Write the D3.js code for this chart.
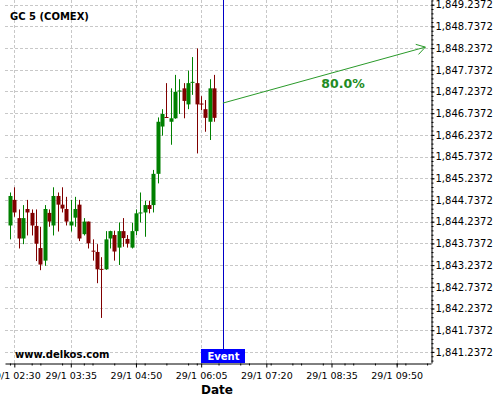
<!DOCTYPE html>
<html><head><meta charset="utf-8">
<script src="https://cdn.jsdelivr.net/npm/d3@7"></script>
<style>body{margin:0;background:#fff}svg{display:block;font-family:"DejaVu Sans",sans-serif}</style>
</head><body><svg id="c" width="500" height="400"></svg>
<script>
const times = ["02:25","02:30","02:35","02:40","02:45","02:50","02:55","03:00","03:05","03:10","03:15","03:20","03:25","03:30","03:35","03:40","03:45","03:50","03:55","04:00","04:05","04:10","04:15","04:20","04:25","04:30","04:35","04:40","04:45","04:50","04:55","05:00","05:05","05:10","05:15","05:20","05:25","05:30","05:35","05:40","05:45","05:50","05:55","06:00","06:05","06:10","06:15","06:20"];
const open  = [1844.15,1844.74,1844.32,1843.85,1844.53,1844.44,1844.14,1843.63,1843.34,1844.44,1844.15,1844.83,1844.63,1844.53,1844.15,1844.33,1844.63,1843.95,1844.24,1843.57,1843.54,1843.15,1843.14,1843.85,1843.93,1843.64,1844.02,1843.84,1843.64,1844.02,1844.44,1844.45,1844.62,1844.62,1845.34,1846.43,1846.65,1846.54,1846.62,1847.24,1847.31,1846.94,1847.45,1847.43,1846.96,1846.83,1846.54,1847.31];
const high  = [1844.91,1845.03,1844.52,1844.62,1844.74,1844.52,1844.52,1844.12,1844.62,1844.52,1845.03,1844.91,1845.03,1844.81,1844.74,1844.81,1844.74,1844.32,1844.24,1843.83,1843.72,1843.42,1844.02,1844.03,1844.03,1844.22,1844.32,1843.93,1844.21,1844.52,1844.91,1844.72,1844.72,1845.43,1846.64,1846.83,1847.43,1847.31,1847.62,1847.52,1847.43,1847.72,1848.03,1848.23,1847.13,1847.04,1847.52,1847.62];
const low   = [1843.83,1844.35,1843.62,1843.72,1843.92,1843.92,1843.33,1843.12,1843.22,1844.12,1843.92,1844.01,1844.45,1844.15,1844.01,1844.12,1843.79,1843.92,1843.62,1843.34,1842.82,1842.02,1843.13,1843.62,1843.34,1843.24,1843.66,1843.64,1843.62,1843.93,1844.22,1843.89,1844.43,1844.45,1845.12,1846.22,1846.63,1846.01,1846.61,1846.72,1846.62,1846.83,1847.16,1845.81,1846.81,1846.31,1846.12,1846.54];
const close = [1844.83,1844.45,1843.85,1844.32,1844.45,1844.15,1843.73,1843.25,1844.53,1844.24,1844.83,1844.63,1844.54,1844.24,1844.24,1844.53,1843.85,1844.24,1843.74,1843.55,1843.14,1843.13,1843.83,1844.02,1843.55,1844.02,1843.86,1843.73,1844.02,1844.43,1844.45,1844.62,1844.53,1845.34,1846.54,1846.72,1846.64,1846.62,1847.23,1847.26,1847.02,1847.43,1847.46,1846.94,1846.94,1846.63,1847.31,1846.63];

const xTickTimes  = ["02:30","03:35","04:50","06:05","07:20","08:35","09:50"];
const xTickLabels = ["29/1 02:30","29/1 03:35","29/1 04:50","29/1 06:05","29/1 07:20","29/1 08:35","29/1 09:50"];
const yTicks = [1841.2372,1841.7372,1842.2372,1842.7372,1843.2372,1843.7372,1844.2372,1844.7372,1845.2372,1845.7372,1846.2372,1846.7372,1847.2372,1847.7372,1848.2372,1848.7372,1849.2372];
const eventTime = "06:30";
const arrowTimes  = ["06:30","10:23"];
const arrowPrices = [1846.97,1848.26];
const probLabel = "80.0%";
const title = "GC 5 (COMEX)";
const site = "www.delkos.com";
const xTitle = "Date";
const eventLabel = "Event";

const parse = d3.timeParse("%H:%M");
const parseS = d3.timeParse("%H:%M:%S");
const svg = d3.select("#c");
const L = 5, R = 431, T = 0, B = 363;

const x = d3.scaleTime().domain([parseS("02:19:18"), parseS("10:29:30")]).range([L, R]);
const y = d3.scaleLinear().domain([1840.9814, 1849.3455]).range([B, T]);

// grid
const grid = svg.append("g").attr("stroke","#c8c8c8").attr("stroke-dasharray","3,2").attr("stroke-width",1);
xTickTimes.forEach(t => {
  const xx = Math.round(x(parse(t))) + 0.5;
  grid.append("line").attr("x1",xx).attr("x2",xx).attr("y1",T).attr("y2",B);
});
yTicks.forEach(v => {
  const yy = Math.round(y(v)) + 0.5;
  grid.append("line").attr("x1",L).attr("x2",R).attr("y1",yy).attr("y2",yy);
});

// candles
const data = times.map((t,i)=>({t:parse(t),o:open[i],h:high[i],l:low[i],c:close[i]}));
const cw = 4;
const cg = svg.append("g");
data.forEach(d => {
  const col = d.c >= d.o ? "#008000" : "#800000";
  const cx = Math.round(x(d.t));
  cg.append("line").attr("x1",cx+0.5).attr("x2",cx+0.5).attr("y1",y(d.h)).attr("y2",y(d.l)).attr("stroke",col).attr("stroke-width",1);
  const top = y(Math.max(d.o,d.c)), bot = y(Math.min(d.o,d.c));
  cg.append("rect").attr("x",cx-1.5).attr("y",top).attr("width",cw).attr("height",Math.max(1,bot-top)).attr("fill",col);
});

// event line
const ex = Math.round(x(parse(eventTime))) + 0.5;
svg.append("line").attr("x1",ex).attr("x2",ex).attr("y1",T).attr("y2",B).attr("stroke","#0000c8").attr("stroke-width",1);

// arrow
const ax1 = x(parse(arrowTimes[0])), ay1 = y(arrowPrices[0]);
const ax2 = x(parse(arrowTimes[1])), ay2 = y(arrowPrices[1]);
const ag = svg.append("g").attr("stroke","#2a9a2a").attr("stroke-width",1).attr("fill","none");
ag.append("line").attr("x1",ax1).attr("y1",ay1).attr("x2",ax2).attr("y2",ay2);
const ang = Math.atan2(ay2-ay1, ax2-ax1);
[0.55,-0.55].forEach(a => {
  ag.append("line").attr("x1",ax2).attr("y1",ay2)
    .attr("x2",ax2-10*Math.cos(ang+a)).attr("y2",ay2-10*Math.sin(ang+a));
});
svg.append("text").attr("x",343).attr("y",88).attr("text-anchor","middle")
  .attr("font-size",12.5).attr("font-weight","bold").attr("fill","#228b22").text(probLabel);

// axes
const xAxis = d3.axisBottom(x).tickValues(xTickTimes.map(parse)).tickSize(4).tickSizeOuter(0)
  .tickFormat((d,i)=>xTickLabels[i]);
const gx = svg.append("g").attr("transform",`translate(0,${B+0.5})`).call(xAxis);
gx.selectAll("text").attr("font-size",9.5).attr("fill","#000").attr("dy","0.9em").attr("font-family","DejaVu Sans");
gx.select(".domain").attr("stroke","#000");
const minorX = d3.timeMinute.every(25).range(parseS("02:20:00"), parseS("10:30:00"));
const gxm = svg.append("g").attr("transform",`translate(0,${B+0.5})`)
  .call(d3.axisBottom(x).tickValues(minorX).tickSize(2).tickFormat("").tickSizeOuter(0));
gxm.select(".domain").remove();

const yAxis = d3.axisRight(y).tickValues(yTicks).tickSize(3).tickSizeOuter(0).tickFormat(d3.format(",.4f"));
const gy = svg.append("g").attr("transform",`translate(${R+0.5},0)`).call(yAxis);
gy.selectAll("text").attr("font-size",10).attr("fill","#000").attr("x",4).attr("font-family","DejaVu Sans");
gy.select(".domain").attr("stroke","#000");
const minorY = d3.range(0,84).map(k=>1841.2372 - 0.2 + k*0.1).filter(v=>v>1840.99 && v<1849.34);
const gym = svg.append("g").attr("transform",`translate(${R+0.5},0)`)
  .call(d3.axisRight(y).tickValues(minorY).tickSize(2).tickFormat("").tickSizeOuter(0));
gym.select(".domain").remove();

// labels
svg.append("text").attr("x",10).attr("y",19.5).attr("font-size",10).attr("font-weight","bold").text(title);
svg.append("text").attr("x",15).attr("y",357.5).attr("font-size",10).attr("font-weight","bold").text(site);
svg.append("text").attr("x",217).attr("y",394).attr("text-anchor","middle").attr("font-size",12).attr("font-weight","bold").text(xTitle);
svg.append("rect").attr("x",ex-22.5).attr("y",349).attr("width",44).attr("height",14).attr("fill","#0000ff");
svg.append("text").attr("x",ex).attr("y",360).attr("text-anchor","middle").attr("font-size",10).attr("font-weight","bold").attr("fill","#fff").text(eventLabel);
</script></body></html>
